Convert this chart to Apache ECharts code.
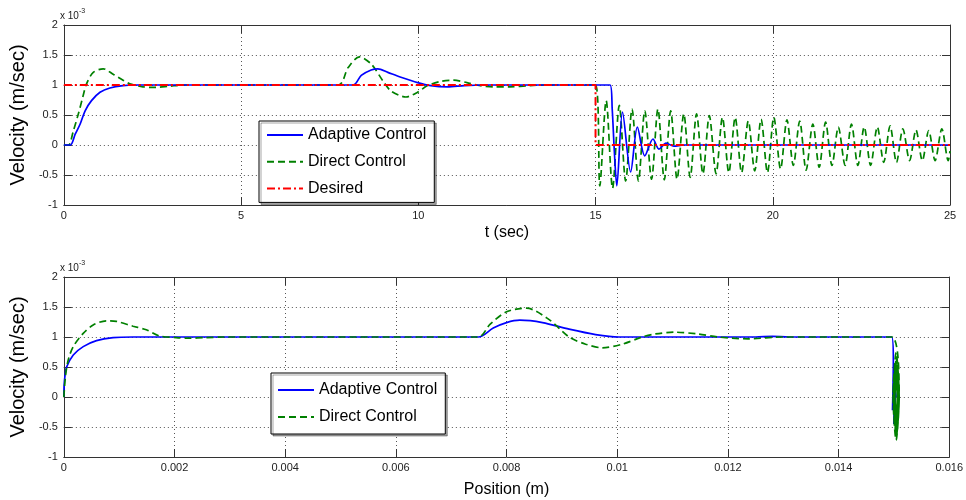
<!DOCTYPE html>
<html>
<head>
<meta charset="utf-8">
<script src="https://cdn.jsdelivr.net/npm/echarts@6/dist/echarts.min.js"></script>
<style>
html,body{margin:0;padding:0;background:#fff;}
#chart{width:966px;height:500px;}
</style>
</head>
<body>
<div id="chart"></div>
<script>
// ---------- DATA (velocity values in units of 1e-3 m/sec) ----------
const seriesNames = ['Adaptive Control', 'Direct Control', 'Desired'];
const xTicksTop = [0, 5, 10, 15, 20, 25];
const yTicks = [-1, -0.5, 0, 0.5, 1, 1.5, 2];

// Top chart: time (sec)
const adaptiveT = [0, 0.18, 0.32, 0.46, 0.60, 0.78, 1.02, 1.30, 1.67, 2.00,
  8.16, 8.39, 8.67, 8.86, 9.14, 9.51, 9.98, 10.35, 10.82, 11.30,
  11.80, 15.41, 15.47, 15.53, 15.60, 15.76, 15.99, 16.18, 16.39, 16.62,
  16.79, 16.99, 17.21, 17.49, 25];
const adaptiveV = [0, 0, 0.18, 0.35, 0.57, 0.74, 0.88, 0.95, 0.99, 1.0,
  1.0, 1.16, 1.25, 1.27, 1.21, 1.13, 1.04, 0.99, 0.97, 0.99,
  1.0, 1.0, 0.6, -0.1, -0.68, 0.55, -0.45, 0.30, -0.18, 0.10,
  -0.07, 0.03, -0.02, 0.0, 0.0];

const directT = [0, 0.13, 0.27, 0.41, 0.53, 0.64, 0.83, 1.11, 1.39, 1.67,
  1.86, 2.23, 2.60, 2.98, 3.40, 7.74, 8.02, 8.34, 8.67, 9.00,
  9.23, 9.65, 9.98, 10.26, 10.63, 11.00, 11.37, 11.75, 12.12, 12.59,
  13.15, 13.60, 15.00,
  15.12, 15.30, 15.48, 15.67, 15.85, 16.03, 16.21, 16.39, 16.58, 16.76,
  16.94, 17.12, 17.30, 17.49, 17.67, 17.85, 18.03, 18.21, 18.40, 18.58,
  18.76, 18.94, 19.12, 19.31, 19.49, 19.67, 19.85, 20.03, 20.22, 20.40,
  20.58, 20.76, 20.94, 21.13, 21.31, 21.49, 21.67, 21.85, 22.04, 22.22,
  22.40, 22.58, 22.76, 22.95, 23.13, 23.31, 23.49, 23.67, 23.86, 24.04,
  24.22, 24.40, 24.58, 24.77, 24.95, 25.00];
const directV = [0, 0, 0.24, 0.52, 0.79, 1.02, 1.21, 1.27, 1.18, 1.08,
  1.02, 0.97, 0.96, 0.98, 1.0, 1.0, 1.29, 1.47, 1.35, 1.07,
  0.90, 0.80, 0.88, 0.99, 1.06, 1.08, 1.04, 0.99, 0.97, 0.97,
  0.99, 1.0, 1.0,
  -0.68, 0.74, -0.72, 0.66, -0.60, 0.60, -0.60, 0.57, -0.57, 0.60,
  -0.58, 0.57, -0.57, 0.52, -0.54, 0.52, -0.48, 0.49, -0.48, 0.46,
  -0.46, 0.46, -0.46, 0.40, -0.43, 0.43, -0.46, 0.46, -0.40, 0.42,
  -0.34, 0.40, -0.42, 0.35, -0.37, 0.38, -0.34, 0.30, -0.34, 0.35,
  -0.34, 0.30, -0.34, 0.30, -0.29, 0.32, -0.29, 0.27, -0.26, 0.25,
  -0.26, 0.24, -0.26, 0.27, -0.26, -0.10];

const desiredT = [0, 15, 15, 25];
const desiredV = [1, 1, 0, 0];

// Bottom chart: position (m)
const xTicksBottom = [0, 0.002, 0.004, 0.006, 0.008, 0.01, 0.012, 0.014, 0.016];
const adaptivePos = [0, 0.000005, 0.00002, 0.00005, 0.00017, 0.00035, 0.00059, 0.00089, 0.00125, 0.0016,
  0.00749, 0.00776, 0.0080, 0.00824, 0.00865, 0.00913, 0.00961, 0.01003, 0.0105, 0.0125,
  0.0128, 0.0131, 0.01496, 0.01499, 0.014975, 0.01501, 0.01500, 0.01503, 0.01502, 0.01503, 0.01504];
const adaptivePV = [0, 0.2, 0.35, 0.5, 0.7, 0.84, 0.94, 0.99, 1.0, 1.0,
  1.0, 1.15, 1.24, 1.28, 1.24, 1.13, 1.04, 1.0, 1.0, 1.0,
  1.01, 1.0, 1.0, 0.6, -0.22, 0.55, -0.45, 0.3, -0.18, 0.1, 0.0];

// Direct control vs position: smooth part, then the phase-plane spiral at x ~ 0.01504
const directPos = [0, 0.00003, 0.00008, 0.00017, 0.00035, 0.00053, 0.00077, 0.00095, 0.00125, 0.00149,
  0.00172, 0.00203, 0.00226, 0.00256, 0.0029, 0.00749, 0.0077, 0.0080, 0.00836, 0.00877,
  0.00913, 0.00943, 0.00973, 0.01009, 0.01045, 0.01068, 0.01104, 0.01146, 0.01182, 0.01236,
  0.0130, 0.01496,
  0.015095,
  0.01504, 0.014985, 0.01504, 0.015095, 0.01504, 0.014985, 0.01504, 0.015095,
  0.01504, 0.014985, 0.01504, 0.015095, 0.01504, 0.014985, 0.01504, 0.015085,
  0.01504, 0.014995, 0.01504, 0.015085, 0.01504, 0.014995, 0.01504, 0.015085,
  0.01504, 0.014995, 0.01504, 0.015085, 0.01504, 0.014995, 0.01504, 0.015085,
  0.01504, 0.014995, 0.01504, 0.015085, 0.01504, 0.014995, 0.01504, 0.015075,
  0.01504, 0.015005, 0.01504, 0.015075, 0.01504, 0.015005, 0.01504, 0.015075,
  0.01504, 0.015005, 0.01504, 0.015075, 0.01504, 0.015005, 0.01504, 0.015075,
  0.01504, 0.015005, 0.01504, 0.015075, 0.01504, 0.015005, 0.01504, 0.01507,
  0.01504, 0.01501, 0.01504, 0.01507, 0.01504, 0.01501, 0.01504, 0.01507,
  0.01504, 0.01501, 0.01504, 0.01507, 0.01504, 0.01501, 0.01504, 0.01507,
  0.01504, 0.01501, 0.01504, 0.01507, 0.01504, 0.01501, 0.01504, 0.015062,
  0.01504, 0.015018, 0.01504, 0.015062, 0.01504, 0.015018, 0.01504, 0.015062,
  0.01504, 0.015018, 0.01504, 0.015062, 0.01504, 0.015018, 0.01504, 0.015062,
  0.01504, 0.015018, 0.01504];
const directPV = [0, 0.35, 0.62, 0.84, 1.06, 1.2, 1.27, 1.26, 1.18, 1.12,
  1.02, 0.99, 0.98, 0.99, 1.0, 1.0, 1.21, 1.42, 1.48, 1.29,
  1.0, 0.88, 0.82, 0.88, 1.0, 1.05, 1.08, 1.05, 1.0, 0.97,
  1.0, 1.0,
  0,
  -0.68, 0, 0.74, 0, -0.72, 0, 0.66, 0,
  -0.60, 0, 0.60, 0, -0.60, 0, 0.57, 0,
  -0.57, 0, 0.60, 0, -0.58, 0, 0.57, 0,
  -0.57, 0, 0.52, 0, -0.54, 0, 0.52, 0,
  -0.48, 0, 0.49, 0, -0.48, 0, 0.46, 0,
  -0.46, 0, 0.46, 0, -0.46, 0, 0.40, 0,
  -0.43, 0, 0.43, 0, -0.46, 0, 0.46, 0,
  -0.40, 0, 0.42, 0, -0.34, 0, 0.40, 0,
  -0.42, 0, 0.35, 0, -0.37, 0, 0.38, 0,
  -0.34, 0, 0.30, 0, -0.34, 0, 0.35, 0,
  -0.34, 0, 0.30, 0, -0.34, 0, 0.30, 0,
  -0.29, 0, 0.32, 0, -0.29, 0, 0.27, 0,
  -0.26, 0, 0.25, 0, -0.26, 0, 0.24, 0,
  -0.26, 0, 0.27, 0, -0.26, 0, -0.10];

// ---------- CHART ----------
const zip = (a, b) => a.map((x, i) => [x, b[i]]);
const FONT = "'Liberation Sans', Arial, sans-serif";
const AX = '#333';
const BLUE = '#0000ff', GREEN = '#008000', RED = '#ff0000';

function xAx(gridIndex, min, max, interval, name, nameGap, pos) {
  const main = pos === 'bottom';
  return {
    type: 'value', gridIndex, min, max, interval, position: pos,
    name: main ? name : '', nameLocation: 'middle', nameGap,
    nameTextStyle: { fontFamily: FONT, fontSize: 16, color: '#000' },
    axisLine: { show: true, onZero: false, lineStyle: { color: AX, width: 1 } },
    axisTick: { show: true, inside: true, length: 8, lineStyle: { color: AX } },
    axisLabel: { show: main, margin: 5, fontFamily: FONT, fontSize: 11, color: '#222',
      formatter: v => String(+v.toFixed(4)) },
    splitLine: { show: main, lineStyle: { color: '#555', width: 1, type: [1, 3] } }
  };
}
function yAx(gridIndex, pos) {
  const main = pos === 'left';
  return {
    type: 'value', gridIndex, min: yTicks[0], max: yTicks[yTicks.length - 1], interval: 0.5, position: pos,
    name: main ? 'Velocity (m/sec)' : '', nameLocation: 'middle', nameGap: 25,
    nameTextStyle: { fontFamily: FONT, fontSize: 20, color: '#000' },
    axisLine: { show: true, onZero: false, lineStyle: { color: AX, width: 1 } },
    axisTick: { show: true, inside: true, length: 8, lineStyle: { color: AX } },
    axisLabel: { show: main, margin: 6, fontFamily: FONT, fontSize: 11, color: '#222' },
    splitLine: { show: main, lineStyle: { color: '#555', width: 1, type: [1, 3] } }
  };
}

const blueStyle = { color: BLUE, width: 1.7, type: 'solid' };
const greenStyle = { color: GREEN, width: 1.7, type: [7, 4] };
const redStyle = { color: RED, width: 2, type: [8, 3, 2, 3] };

function line(name, data, xi, yi, style, z, smooth) {
  return {
    name, type: 'line', data, xAxisIndex: xi, yAxisIndex: yi,
    showSymbol: false, symbol: 'none', smooth: smooth, z,
    lineStyle: style, itemStyle: { color: style.color },
    emphasis: { disabled: true }, animation: false, clip: true
  };
}

function legend(left, top, names, gap, pad) {
  return {
    left, top, orient: 'vertical', data: names,
    itemWidth: 36, itemHeight: 14, itemGap: gap, padding: pad,
    itemStyle: { opacity: 0 },
    backgroundColor: '#fff', borderColor: '#000', borderWidth: 1,
    shadowColor: 'rgba(0,0,0,0.35)', shadowOffsetX: 2, shadowOffsetY: 2, shadowBlur: 0,
    textStyle: { fontFamily: FONT, fontSize: 16, color: '#000' },
    selectedMode: false
  };
}

const expTitle = (top) => ({
  text: '{a|x 10}{b|-3}', left: 55, top,
  textStyle: { fontWeight: 'normal', rich: {
    a: { fontFamily: FONT, fontSize: 10, fontWeight: 'normal', color: '#222', verticalAlign: 'bottom' },
    b: { fontFamily: FONT, fontSize: 7, fontWeight: 'normal', color: '#222', verticalAlign: 'top', padding: [0, 0, 6, 0] }
  } }
});

const option = {
  animation: false,
  backgroundColor: '#fff',
  title: [expTitle(3), expTitle(255)],
  grid: [
    { left: 57, right: 16, top: 25, height: 180 },
    { left: 57, right: 16, top: 277, height: 180 }
  ],
  xAxis: [
    xAx(0, xTicksTop[0], xTicksTop[xTicksTop.length - 1], 5, 't (sec)', 20, 'bottom'),
    xAx(0, xTicksTop[0], xTicksTop[xTicksTop.length - 1], 5, '', 0, 'top'),
    xAx(1, xTicksBottom[0], xTicksBottom[xTicksBottom.length - 1], 0.002, 'Position (m)', 25, 'bottom'),
    xAx(1, xTicksBottom[0], xTicksBottom[xTicksBottom.length - 1], 0.002, '', 0, 'top')
  ],
  yAxis: [yAx(0, 'left'), yAx(0, 'right'), yAx(1, 'left'), yAx(1, 'right')],
  legend: [
    legend(259, 121, seriesNames, 10.7, [6, 8, 6, 7]),
    legend(271, 373, seriesNames.slice(0, 2), 11, [9, 8, 9, 6])
  ],
  series: [
    line(seriesNames[1], zip(directT, directV), 0, 0, greenStyle, 2, 0.3),
    line(seriesNames[0], zip(adaptiveT, adaptiveV), 0, 0, blueStyle, 3, 0.3),
    line(seriesNames[2], zip(desiredT, desiredV), 0, 0, redStyle, 4, false),
    line(seriesNames[0], zip(adaptivePos, adaptivePV), 2, 2, blueStyle, 2, 0.3),
    line(seriesNames[1], zip(directPos, directPV), 2, 2, greenStyle, 3, 0.3)
  ]
};

const chart = echarts.init(document.getElementById('chart'), null, { renderer: 'canvas' });
chart.setOption(option);
</script>
</body>
</html>
